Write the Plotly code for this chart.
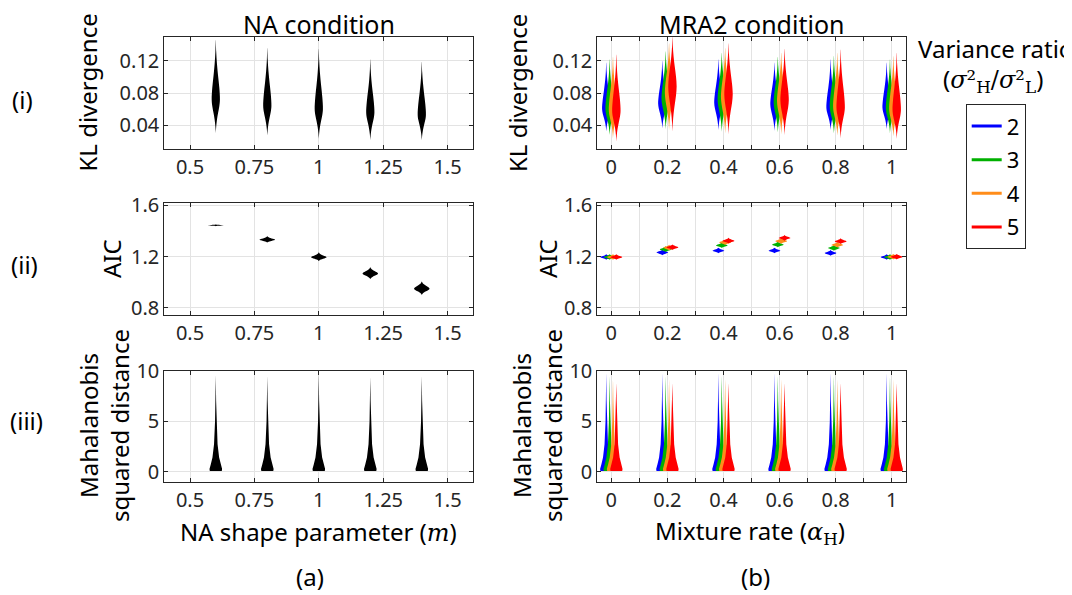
import plotly.graph_objects as go
from plotly.subplots import make_subplots

# the page body has an 8 px margin, so the figure is drawn 8 px smaller and
# every position below is given in window pixels and shifted back by OFF
W, H = 1072, 595
OFF = 8
FW, FH = W - OFF, H - OFF
FONT = "Noto Sans"
SERIF = "DejaVu Serif"

# ---- (a) NA condition: one violin per NA shape parameter m ----
na_m = [0.6, 0.8, 1.0, 1.2, 1.4]
na_kl_mode = [0.072, 0.064, 0.060, 0.056, 0.053]
na_kl_low = [0.030, 0.027, 0.023, 0.021, 0.021]
na_kl_high = [0.146, 0.136, 0.135, 0.122, 0.119]
na_aic_mode = [1.443, 1.331, 1.195, 1.067, 0.949]
na_aic_spread = [0.006, 0.022, 0.030, 0.042, 0.048]
na_maha_top = [9.6, 9.5, 9.7, 9.4, 9.5]

# ---- (b) MRA2 condition: rows = variance ratio 2,3,4,5 ; cols = mixture rate ----
mra_alpha = [0, 0.2, 0.4, 0.6, 0.8, 1.0]
ratio_names = ["2", "3", "4", "5"]
ratio_colors = ["#0000ff", "#00b000", "#ff8c1a", "#ff0000"]

mra_kl_mode = [
    [0.060, 0.067, 0.068, 0.066, 0.062, 0.062],
    [0.060, 0.073, 0.072, 0.068, 0.063, 0.061],
    [0.059, 0.080, 0.075, 0.070, 0.063, 0.060],
    [0.058, 0.088, 0.078, 0.071, 0.062, 0.059],
]
mra_kl_low = [
    [0.032, 0.036, 0.034, 0.033, 0.034, 0.035],
    [0.028, 0.035, 0.032, 0.031, 0.030, 0.030],
    [0.024, 0.034, 0.030, 0.029, 0.027, 0.026],
    [0.020, 0.032, 0.029, 0.028, 0.024, 0.023],
]
mra_kl_high = [
    [0.118, 0.120, 0.122, 0.118, 0.122, 0.118],
    [0.122, 0.132, 0.130, 0.125, 0.126, 0.122],
    [0.125, 0.142, 0.136, 0.130, 0.130, 0.126],
    [0.128, 0.150, 0.142, 0.135, 0.134, 0.130],
]
mra_aic_mode = [
    [1.195, 1.231, 1.245, 1.245, 1.227, 1.195],
    [1.195, 1.256, 1.286, 1.292, 1.266, 1.195],
    [1.195, 1.268, 1.310, 1.320, 1.290, 1.197],
    [1.195, 1.271, 1.322, 1.344, 1.318, 1.197],
]
mra_maha_top = [
    [9.8, 9.8, 9.8, 9.8, 9.8, 9.8],
    [9.5, 9.5, 9.5, 9.5, 9.5, 9.5],
    [9.2, 9.2, 9.2, 9.2, 9.2, 9.2],
    [8.8, 8.8, 8.8, 8.8, 8.8, 8.8],
]

# violin outline templates (relative half-width vs. position)
spindle_f = [0, 0.2, 0.4, 0.6, 0.8, 1.0]
spindle_w = [1.0, 0.85, 0.55, 0.28, 0.1, 0.0]
maha_levels = [0.05, 0.05, 0.25, 0.7, 1.4, 2.7, 5.0, 7.0]
maha_w = [0.0, 0.95, 1.0, 0.8, 0.53, 0.28, 0.12, 0.05]


def spindle(xc, mode, lo, hi, hw):
    top = [mode + f * (hi - mode) for f in spindle_f][::-1]
    bot = [mode - f * (mode - lo) for f in spindle_f[1:]]
    ys = top + bot
    ws = spindle_w[::-1] + spindle_w[1:]
    xs = [xc + w * hw for w in ws] + [xc - w * hw for w in ws[::-1]]
    return xs, ys + ys[::-1]


def maha(xc, top, hw):
    ys = maha_levels + [top]
    ws = maha_w + [0.0]
    xs = [xc + w * hw for w in ws] + [xc - w * hw for w in ws[::-1]]
    return xs, ys + ys[::-1]


def add_shape(fig, xs, ys, color, row, col, smooth=True):
    fig.add_trace(go.Scatter(
        x=xs, y=ys, mode="lines", fill="toself", fillcolor=color,
        line=dict(color=color, width=0, shape="spline" if smooth else "linear"),
        hoverinfo="skip", showlegend=False), row=row, col=col)


fig = make_subplots(rows=3, cols=2)

# left column
for i, m in enumerate(na_m):
    xs, ys = spindle(m, na_kl_mode[i], na_kl_low[i], na_kl_high[i], 0.016)
    add_shape(fig, xs, ys, "black", 1, 1)
    s = na_aic_spread[i]
    xs, ys = spindle(m, na_aic_mode[i], na_aic_mode[i] - s, na_aic_mode[i] + s * 1.2, 0.03)
    add_shape(fig, xs, ys, "black", 2, 1)
    xs, ys = maha(m, na_maha_top[i], 0.0245)
    add_shape(fig, xs, ys, "black", 3, 1, smooth=False)

# right column
ratio_offset = [-0.018, -0.006, 0.006, 0.018]
for k, color in enumerate(ratio_colors):
    for j, a in enumerate(mra_alpha):
        xc = a + ratio_offset[k]
        xs, ys = spindle(xc, mra_kl_mode[k][j], mra_kl_low[k][j], mra_kl_high[k][j], 0.015)
        add_shape(fig, xs, ys, color, 1, 2)
        md = mra_aic_mode[k][j]
        xs, ys = spindle(xc, md, md - 0.02, md + 0.024, 0.021)
        add_shape(fig, xs, ys, color, 2, 2)
        xs, ys = maha(xc, mra_maha_top[k][j], 0.022)
        add_shape(fig, xs, ys, color, 3, 2, smooth=False)

# legend entries
for name, color in zip(ratio_names, ratio_colors):
    fig.add_trace(go.Scatter(x=[None], y=[None], mode="lines", name=name,
                             legendgroup=name, line=dict(color=color, width=3)),
                  row=1, col=2)


def px(x):
    return (x - OFF) / FW


def py(y):
    return 1 - (y - OFF) / FH


axis_common = dict(
    showline=True, linecolor="#262626", linewidth=1, mirror="ticks",
    ticks="inside", ticklen=4, tickcolor="#262626", automargin=False,
    showgrid=True, gridcolor="#e3e3e3", gridwidth=1, zeroline=False,
    tickfont=dict(family=FONT, size=20, color="#262626"),
)

left_dom = [px(164.3), px(473.3)]
right_dom = [px(597.3), px(905.7)]
row_dom = [[py(149.3), py(36.7)], [py(315), py(203.3)], [py(481.7), py(370.7)]]

left_ticks = [0.5, 0.75, 1, 1.25, 1.5]
left_text = ["0.5", "0.75", "1", "1.25", "1.5"]
right_ticks = [0, 0.2, 0.4, 0.6, 0.8, 1.0]
right_text = ["0", "0.2", "0.4", "0.6", "0.8", "1"]
right_minor = [0.1, 0.3, 0.5, 0.7, 0.9]

y_ranges = [[0.01, 0.15], [0.745, 1.615], [-1, 10]]
y_ticks = [[0.04, 0.08, 0.12], [0.8, 1.2, 1.6], [0, 5, 10]]
y_text = [["0.04", "0.08", "0.12"], ["0.8", "1.2", "1.6"], ["0", "5", "10"]]

for r in range(3):
    for c in range(2):
        n = r * 2 + c + 1
        xa = "xaxis" if n == 1 else "xaxis%d" % n
        ya = "yaxis" if n == 1 else "yaxis%d" % n
        fig.layout[xa].update(
            domain=left_dom if c == 0 else right_dom,
            range=[0.4, 1.6] if c == 0 else [-0.05, 1.05],
            tickmode="array",
            tickvals=left_ticks if c == 0 else right_ticks,
            ticktext=left_text if c == 0 else right_text,
            **axis_common)
        if c == 1:
            fig.layout[xa].update(minor=dict(
                tickmode="array", tickvals=right_minor, ticks="inside", ticklen=4,
                tickcolor="#262626", showgrid=True, gridcolor="#e3e3e3", gridwidth=1))
        fig.layout[ya].update(
            domain=row_dom[r], range=y_ranges[r], tickmode="array",
            tickvals=y_ticks[r], ticktext=y_text[r], **axis_common)


def label(text, x, y, size=24, angle=0, xanchor="center", yanchor="middle"):
    return dict(text=text, x=px(x), y=py(y), xref="paper", yref="paper",
                showarrow=False, textangle=angle, xanchor=xanchor, yanchor=yanchor,
                font=dict(family=FONT, size=size, color="black"))


m_it = "<span style=\"font-family:'%s'\"><i>m</i></span>" % SERIF
alpha_h = "<span style=\"font-family:'%s'\"><i>α</i><sub>H</sub></span>" % SERIF
sig = "<span style=\"font-family:'%s'\"><i>σ</i>²<sub>H</sub>/<i>σ</i>²<sub>L</sub></span>" % SERIF

annotations = [
    label("NA condition", 318.8, 24, size=25),
    label("MRA2 condition", 751.5, 24, size=25),
    label("KL divergence", 86.5, 93, angle=-90),
    label("KL divergence", 517, 93, angle=-90),
    label("AIC", 111, 259, angle=-90),
    label("AIC", 547, 259, angle=-90),
    label("Mahalanobis<br>squared distance", 104, 426, angle=-90),
    label("Mahalanobis<br>squared distance", 537, 426, angle=-90),
    label("(i)", 22, 99),
    label("(ii)", 24.5, 264),
    label("(iii)", 26, 420),
    label("NA shape parameter (" + m_it + ")", 318, 531),
    label("Mixture rate (" + alpha_h + ")", 750, 531),
    label("(a)", 310, 595, yanchor="bottom"),
    label("(b)", 755, 595, yanchor="bottom"),
    label("Variance ratio", 916, 49, xanchor="left"),
    label("(" + sig + ")", 993, 80),
]

fig.update_layout(
    template="none",
    width=FW, height=FH, margin=dict(l=0, r=0, t=0, b=0, autoexpand=False),
    paper_bgcolor="white", plot_bgcolor="white",
    font=dict(family=FONT, size=20, color="black"),
    annotations=annotations,
    showlegend=True,
    legend=dict(x=px(965.7), y=py(104.3), xanchor="left", yanchor="top",
                bordercolor="#262626", borderwidth=1, bgcolor="white",
                font=dict(family=FONT, size=22, color="black"),
                tracegroupgap=2, itemwidth=30),
)

fig.write_html("out.html")
